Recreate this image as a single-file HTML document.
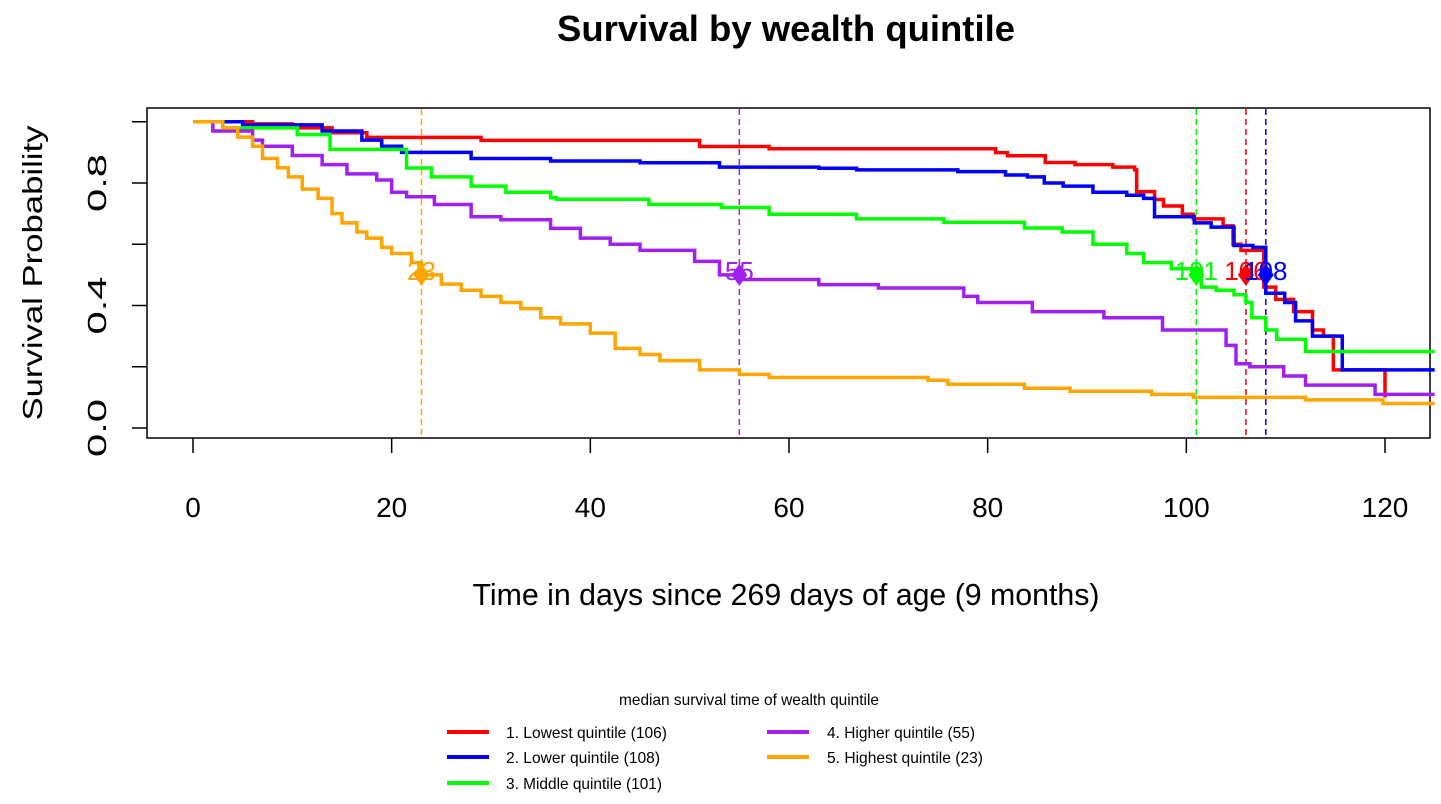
<!DOCTYPE html>
<html><head><meta charset="utf-8"><style>
html,body{margin:0;padding:0;background:#fff;}
svg{display:block;font-family:"Liberation Sans",Arial,sans-serif;}
</style></head><body>
<svg id="chart" width="1441" height="804" viewBox="0 0 1441 804">
<text x="786" y="41" text-anchor="middle" font-size="36" font-weight="bold" textLength="458" lengthAdjust="spacingAndGlyphs">Survival by wealth quintile</text>
<rect x="147" y="108" width="1283" height="330" fill="none" stroke="#000" stroke-width="1.5"/>
<g id="grid"></g>
<g id="series"></g>
<g id="axes"></g>
<text transform="translate(42,273) rotate(-90)" text-anchor="middle" font-size="28" textLength="295" lengthAdjust="spacingAndGlyphs">Survival Probability</text>
<text x="786" y="605" text-anchor="middle" font-size="31" textLength="627" lengthAdjust="spacingAndGlyphs">Time in days since 269 days of age (9 months)</text>
<g font-size="16">
<text x="749" y="705" text-anchor="middle" font-size="16" textLength="260" lengthAdjust="spacingAndGlyphs">median survival time of wealth quintile</text>
<g><line x1="447" y1="732" x2="489" y2="732" stroke="#ff0000" stroke-width="4"/><text x="506" y="738" textLength="161" lengthAdjust="spacingAndGlyphs">1. Lowest quintile (106)</text></g>
<g><line x1="447" y1="757" x2="489" y2="757" stroke="#0000ff" stroke-width="4"/><text x="506" y="763" textLength="154" lengthAdjust="spacingAndGlyphs">2. Lower quintile (108)</text></g>
<g><line x1="447" y1="783" x2="489" y2="783" stroke="#00ff00" stroke-width="4"/><text x="506" y="789" textLength="156" lengthAdjust="spacingAndGlyphs">3. Middle quintile (101)</text></g>
<g><line x1="767" y1="732" x2="809" y2="732" stroke="#a020f0" stroke-width="4"/><text x="827" y="738" textLength="148" lengthAdjust="spacingAndGlyphs">4. Higher quintile (55)</text></g>
<g><line x1="767" y1="757" x2="809" y2="757" stroke="#ffa500" stroke-width="4"/><text x="827" y="763" textLength="156" lengthAdjust="spacingAndGlyphs">5. Highest quintile (23)</text></g>
</g>
</svg>
<script>
const xTicks=[0,20,40,60,80,100,120];
const yTicks=[0.0,0.4,0.8];
const yTickLabels=["0.0","0.4","0.8"];
const yMinorTicks=[0.0,0.2,0.4,0.6,0.8,1.0];
const seriesNames=["lowest","lower","middle","higher","highest"];
const seriesColors=["#ff0000","#0000ff","#00ff00","#a020f0","#ffa500"];
const medians=[106,108,101,55,23];
const lowestSeries=[[0,1],[6,0.993],[10,0.98],[14,0.964],[17.5,0.949],[29,0.939],[51,0.919],[58,0.912],[80.8,0.899],[82,0.889],[85.8,0.867],[88.8,0.86],[92.6,0.852],[94.8,0.843],[95,0.772],[96.8,0.746],[97.7,0.725],[99.6,0.698],[100.7,0.683],[103.7,0.66],[104.7,0.6],[105.5,0.58],[107.8,0.46],[109,0.42],[110.8,0.38],[112.7,0.32],[113.8,0.3],[114.8,0.19],[120,0.1]];
const lowerSeries=[[0,1],[5,0.99],[13,0.97],[17,0.94],[19,0.92],[21,0.9],[28,0.88],[36,0.872],[45,0.866],[53,0.852],[63,0.848],[66.8,0.843],[77,0.837],[81.8,0.826],[84,0.82],[85.7,0.8],[87.6,0.79],[90.6,0.77],[94,0.76],[95.7,0.75],[96.8,0.69],[100.8,0.67],[102.5,0.656],[104.8,0.596],[106.7,0.59],[108,0.44],[109.9,0.41],[111,0.35],[112.7,0.3],[115.7,0.19],[125,0.19]];
const middleSeries=[[0,1],[3,0.98],[10.5,0.958],[13.8,0.91],[21.5,0.849],[24,0.82],[28,0.79],[31.5,0.77],[36,0.752],[36.6,0.747],[45.9,0.73],[53.2,0.72],[58,0.698],[66.8,0.683],[75.6,0.672],[83.7,0.653],[87.5,0.64],[90.6,0.6],[94,0.57],[95.7,0.54],[98.5,0.52],[101.5,0.46],[103,0.45],[104.8,0.435],[106,0.41],[106.6,0.36],[108,0.32],[109.1,0.29],[112,0.25],[125,0.25]];
const higherSeries=[[0,1],[2,0.97],[6,0.94],[7,0.92],[10,0.89],[13,0.86],[15.5,0.83],[18.5,0.81],[20,0.77],[21.5,0.755],[24.3,0.73],[28,0.69],[31,0.68],[36,0.652],[39,0.62],[42,0.6],[45,0.58],[50.5,0.544],[53,0.5],[55,0.485],[63,0.468],[69,0.457],[77.6,0.43],[79,0.41],[84.5,0.38],[91.7,0.36],[97.6,0.32],[104,0.27],[105,0.21],[106.4,0.2],[109.8,0.17],[112,0.14],[119,0.11],[125,0.11]];
const highestSeries=[[0,1],[3,0.98],[4.5,0.95],[6,0.92],[7,0.88],[8.5,0.85],[9.6,0.82],[11,0.78],[12.6,0.75],[14,0.7],[15,0.67],[16.5,0.64],[17.5,0.62],[19,0.59],[20,0.57],[22,0.54],[23,0.5],[25,0.47],[27,0.45],[29,0.43],[31,0.41],[33,0.39],[35,0.36],[37,0.34],[40,0.31],[42.5,0.26],[45,0.24],[47,0.22],[51,0.19],[55,0.175],[58,0.165],[74,0.156],[76,0.143],[83.7,0.13],[88.3,0.12],[96.5,0.11],[100.7,0.1],[112,0.092],[119.8,0.08],[125,0.08]];
const allSeries=[lowestSeries,lowerSeries,middleSeries,higherSeries,highestSeries];

const NS="http://www.w3.org/2000/svg";
function xPos(t){return 193+t*(1385-193)/120;}
function yPos(s){return 428-s*306.25;}
function mk(tag,attrs,parent){const e=document.createElementNS(NS,tag);for(const k in attrs)e.setAttribute(k,attrs[k]);parent.appendChild(e);return e;}
const axes=document.getElementById('axes');
const series=document.getElementById('series');
const grid=document.getElementById('grid');

xTicks.forEach(t=>{
  const tk=mk('line',{x1:xPos(t),y1:438,x2:xPos(t),y2:453,stroke:'#000','stroke-width':1.5},axes);
  
  
  const lb=mk('text',{x:xPos(t),y:517,'text-anchor':'middle','font-size':28},axes);
  lb.textContent=t;
  
  
});
yMinorTicks.forEach(v=>{
  const tk=mk('line',{x1:132,y1:yPos(v),x2:147,y2:yPos(v),stroke:'#000','stroke-width':1.5},axes);
  
  
});
yTicks.forEach((v,i)=>{
  const lb=mk('text',{x:0,y:0,'text-anchor':'middle','font-size':26,textLength:58,lengthAdjust:'spacingAndGlyphs',transform:`translate(106,${yPos(v)}) rotate(-90)`},axes);
  lb.textContent=yTickLabels[i];
  
  
});
medians.forEach((m,i)=>{
  const l=mk('line',{x1:xPos(m),y1:109,x2:xPos(m),y2:437,stroke:seriesColors[i],'stroke-width':1.5,'stroke-dasharray':'6,4'},grid);
  
  
});
allSeries.forEach((data,i)=>{
  let d='M'+xPos(data[0][0])+','+yPos(data[0][1]);
  for(let k=1;k<data.length;k++){
    d+=' H'+xPos(data[k][0])+' V'+yPos(data[k][1]);
  }
  const p=mk('path',{d:d,fill:'none',stroke:seriesColors[i],'stroke-width':3.5},series);
  
  
});
medians.forEach((m,i)=>{
  const cx=xPos(m),cy=yPos(0.5);
  const dm=mk('polygon',{points:`${cx},${cy-11} ${cx+8},${cy} ${cx},${cy+11} ${cx-8},${cy}`,fill:seriesColors[i]},series);
  
  
  const lb=mk('text',{x:cx,y:cy+5,'text-anchor':'middle','font-size':26,fill:seriesColors[i]},series);
  lb.textContent=m;
  
  
});
</script>
</body></html>
